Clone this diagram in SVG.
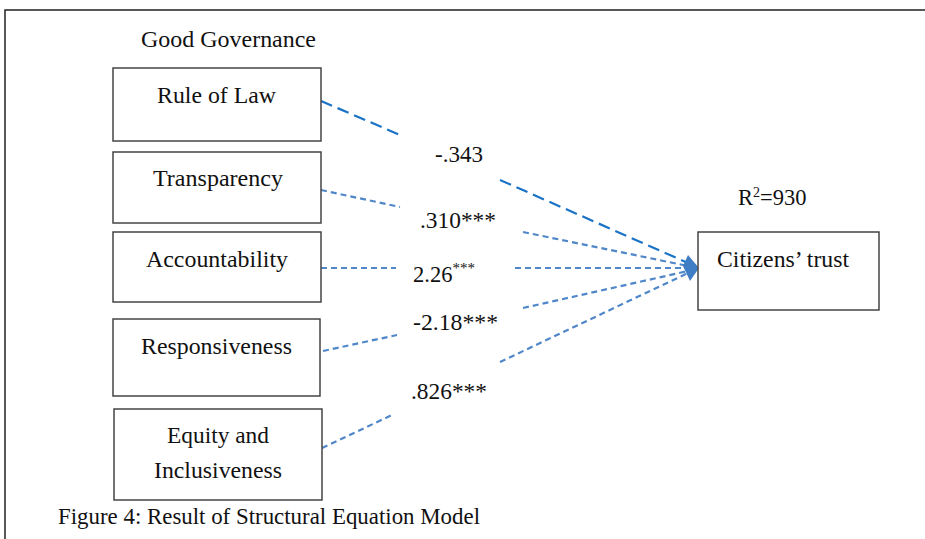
<svg xmlns="http://www.w3.org/2000/svg" width="925" height="539" viewBox="0 0 925 539">
<style>
text{font-family:"Liberation Serif","Times New Roman",serif;font-size:22.5px;fill:#111;}
.box{fill:#fff;stroke:#444;stroke-width:1.5;}
.frame{fill:none;stroke:#222;stroke-width:1.5;}
.c1{fill:none;stroke:#1a73c6;stroke-width:2.2;stroke-dasharray:12 6;}
.c2{fill:none;stroke:#4f87c9;stroke-width:2.2;stroke-dasharray:6 4;}
.sup{font-size:14px;}
.stars{font-size:15px;}
</style>
<rect width="925" height="539" fill="#fff"/>
<path class="frame" d="M5,539 V10 H925"/>
<text x="141" y="47" textLength="175" lengthAdjust="spacingAndGlyphs">Good Governance</text>
<g id="connectors">
<path class="c1" d="M321,101 L400,135"/>
<path class="c1" d="M500,180 L688,263"/>
<path class="c2" d="M321,190 L400,207"/>
<path class="c2" d="M523,232 L688,266"/>
<path class="c2" d="M321,268 L396,268"/>
<path class="c2" d="M515,268 L688,268"/>
<path class="c2" d="M323,351 L397,335"/>
<path class="c2" d="M523,308 L688,271"/>
<path class="c2" d="M322,448 L392,415"/>
<path class="c2" d="M500,362 L688,273"/>
<polygon points="699,268 688,255 683,266 690,281" fill="#3f7dc4"/>
</g>
<g id="rule-of-law"><rect class="box" x="113" y="68" width="208" height="73"/><text x="157" y="103" textLength="119" lengthAdjust="spacingAndGlyphs">Rule of Law</text></g>
<g id="transparency"><rect class="box" x="113" y="152" width="208" height="71"/><text x="153" y="186" textLength="130" lengthAdjust="spacingAndGlyphs">Transparency</text></g>
<g id="accountability"><rect class="box" x="113" y="232" width="208" height="70"/><text x="146" y="267" textLength="142" lengthAdjust="spacingAndGlyphs">Accountability</text></g>
<g id="responsiveness"><rect class="box" x="113" y="319" width="207" height="77"/><text x="141" y="354" textLength="151" lengthAdjust="spacingAndGlyphs">Responsiveness</text></g>
<g id="equity"><rect class="box" x="114" y="409" width="208" height="91"/><text x="167" y="443" textLength="102" lengthAdjust="spacingAndGlyphs">Equity and</text><text x="154" y="478" textLength="128" lengthAdjust="spacingAndGlyphs">Inclusiveness</text></g>
<g id="citizens-trust"><rect class="box" x="698" y="232" width="181" height="78"/><text x="717" y="267" textLength="132" lengthAdjust="spacingAndGlyphs">Citizens’ trust</text></g>
<g id="labels">
<text x="738" y="205">R<tspan class="sup" dy="-8">2</tspan><tspan dy="8">=930</tspan></text>
<text x="435" y="162" textLength="48" lengthAdjust="spacingAndGlyphs">-.343</text>
<text x="420" y="228" textLength="76" lengthAdjust="spacingAndGlyphs">.310***</text>
<text x="413" y="282">2.26<tspan class="stars" dy="-9">***</tspan></text>
<text x="413" y="330" textLength="85" lengthAdjust="spacingAndGlyphs">-2.18***</text>
<text x="411" y="399" textLength="76" lengthAdjust="spacingAndGlyphs">.826***</text>
</g>
<text x="58" y="524" textLength="422" lengthAdjust="spacingAndGlyphs">Figure 4: Result of Structural Equation Model</text>
</svg>
